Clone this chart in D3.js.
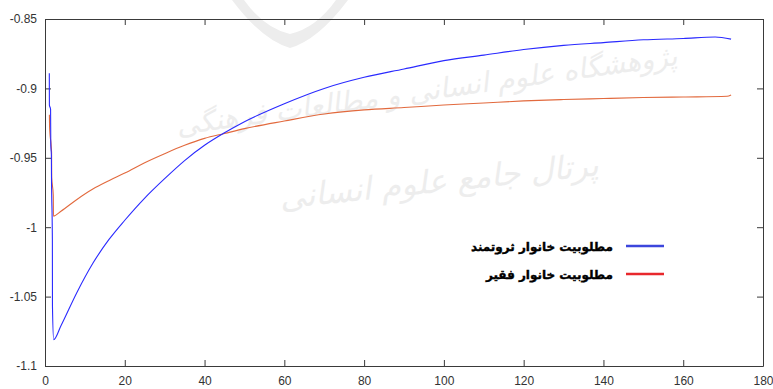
<!DOCTYPE html>
<html>
<head>
<meta charset="utf-8">
<script src="https://cdn.jsdelivr.net/npm/d3@7"></script>
<style>
  body { margin: 0; background: #fff; }
  svg { display: block; }
  .tick text { font-family: "Liberation Sans", Arial, sans-serif; font-size: 12px; fill: #333; }
  .legend-label { font-family: "DejaVu Sans", sans-serif; font-weight: bold; font-size: 12px; fill: #000; stroke: #000; stroke-width: 0.4px; }
</style>
</head>
<body>
<svg id="chart"></svg>
<script>
// x positions (iterations) and values
const richT = [1.08, 1.1, 1.4, 1.45, 1.6, 1.62, 1.85, 1.87, 2.18, 4, 8, 12, 16, 20, 25, 30, 35, 40, 45, 50,
  60, 70, 80, 90, 100, 110, 120, 130, 140, 150, 160, 168, 172];
const richValues = [-0.889, -0.912, -0.915, -0.941, -0.948, -0.961, -1.009, -1.057, -1.081, -1.071, -1.047,
  -1.026, -1.009, -0.995, -0.979, -0.965, -0.952, -0.941, -0.932, -0.924, -0.911, -0.900, -0.892, -0.886,
  -0.880, -0.876, -0.872, -0.869, -0.867, -0.865, -0.864, -0.863, -0.8645];

const poorT = [1.1, 1.15, 1.65, 1.68, 2.08, 2.12, 4, 8, 12, 16, 20, 25, 30, 35, 40, 45, 50,
  60, 70, 80, 90, 100, 110, 120, 130, 140, 150, 160, 171, 172];
const poorValues = [-0.919, -0.928, -0.946, -0.964, -0.977, -0.992, -0.9885, -0.980, -0.9725, -0.9665,
  -0.961, -0.9535, -0.947, -0.941, -0.936, -0.9325, -0.929, -0.9235, -0.9185, -0.9155, -0.9138, -0.912,
  -0.9105, -0.909, -0.908, -0.9073, -0.9066, -0.9062, -0.9057, -0.9047];

const xTicks = [0, 20, 40, 60, 80, 100, 120, 140, 160, 180];
const yTicks = [-1.1, -1.05, -1, -0.95, -0.9, -0.85];

const seriesNames = ['مطلوبیت خانوار ثروتمند', 'مطلوبیت خانوار فقیر'];

const W = 773, H = 389;
const margin = { top: 19, right: 10, bottom: 23, left: 45 };
const width = W - margin.left - margin.right;
const height = H - margin.top - margin.bottom;

const svg = d3.select('#chart').attr('width', W).attr('height', H);

// faint watermark in the background
const wm = svg.append('g').attr('fill', '#ededed')
  .style('font-family', '"DejaVu Sans", sans-serif');
wm.append('path')
  .attr('d', 'M232,0 Q262,40 290,48 Q318,40 348,0 L336,0 Q316,28 290,34 Q264,28 244,0 Z');
wm.append('text')
  .attr('transform', 'translate(428,100) rotate(-8)')
  .attr('text-anchor', 'middle')
  .style('font-size', '28px')
  .style('font-style', 'italic')
  .text('پژوهشگاه علوم انسانی و مطالعات فرهنگی');
wm.append('text')
  .attr('transform', 'translate(440,192) rotate(-6)')
  .attr('text-anchor', 'middle')
  .style('font-size', '32px')
  .style('font-style', 'italic')
  .text('پرتال جامع علوم انسانی');

const g = svg.append('g').attr('transform', `translate(${margin.left},${margin.top})`);

const x = d3.scaleLinear().domain([0, 180]).range([0, width]);
const y = d3.scaleLinear().domain([-1.1, -0.85]).range([height, 0]);

// axes with inward ticks on all four sides
const axisColor = '#3a3a3a';
function styleAxis(sel) {
  sel.select('.domain').attr('stroke', axisColor);
  sel.selectAll('.tick line').attr('stroke', axisColor);
}
g.append('g').attr('transform', `translate(0,${height})`)
  .call(d3.axisBottom(x).tickValues(xTicks).tickSizeInner(-6).tickSizeOuter(0).tickPadding(10).tickFormat(d3.format('d')))
  .call(styleAxis);
g.append('g')
  .call(d3.axisTop(x).tickValues(xTicks).tickSizeInner(-6).tickSizeOuter(0).tickFormat(''))
  .call(styleAxis);
g.append('g')
  .call(d3.axisLeft(y).tickValues(yTicks).tickSizeInner(-6).tickSizeOuter(0).tickPadding(8).tickFormat(d => String(d)))
  .call(styleAxis);
g.append('g').attr('transform', `translate(${width},0)`)
  .call(d3.axisRight(y).tickValues(yTicks).tickSizeInner(-6).tickSizeOuter(0).tickFormat(''))
  .call(styleAxis);

g.append('clipPath').attr('id', 'clip')
  .append('rect').attr('width', width).attr('height', height);

const line = d3.line().curve(d3.curveMonotoneX).x(d => x(d[0])).y(d => y(d[1]));
const rich = richT.map((t, i) => [t, richValues[i]]);
const poor = poorT.map((t, i) => [t, poorValues[i]]);

g.append('path').datum(poor)
  .attr('clip-path', 'url(#clip)')
  .attr('fill', 'none').attr('stroke', '#e26a3e').attr('stroke-width', 1.1)
  .attr('d', line);
g.append('path').datum(rich)
  .attr('clip-path', 'url(#clip)')
  .attr('fill', 'none').attr('stroke', '#2a2aff').attr('stroke-width', 1.1)
  .attr('d', line);

// legend
const legendColors = ['#3c46dc', '#e8282c'];
const legend = svg.append('g');
seriesNames.forEach((name, i) => {
  const ly = 246 + i * 28;
  legend.append('line')
    .attr('x1', 626).attr('x2', 664).attr('y1', ly).attr('y2', ly)
    .attr('stroke', legendColors[i]).attr('stroke-width', 2.5);
  legend.append('text').attr('class', 'legend-label')
    .attr('x', 613).attr('y', ly + 5)
    .attr('text-anchor', 'end')
    .text(name);
});
</script>
</body>
</html>
